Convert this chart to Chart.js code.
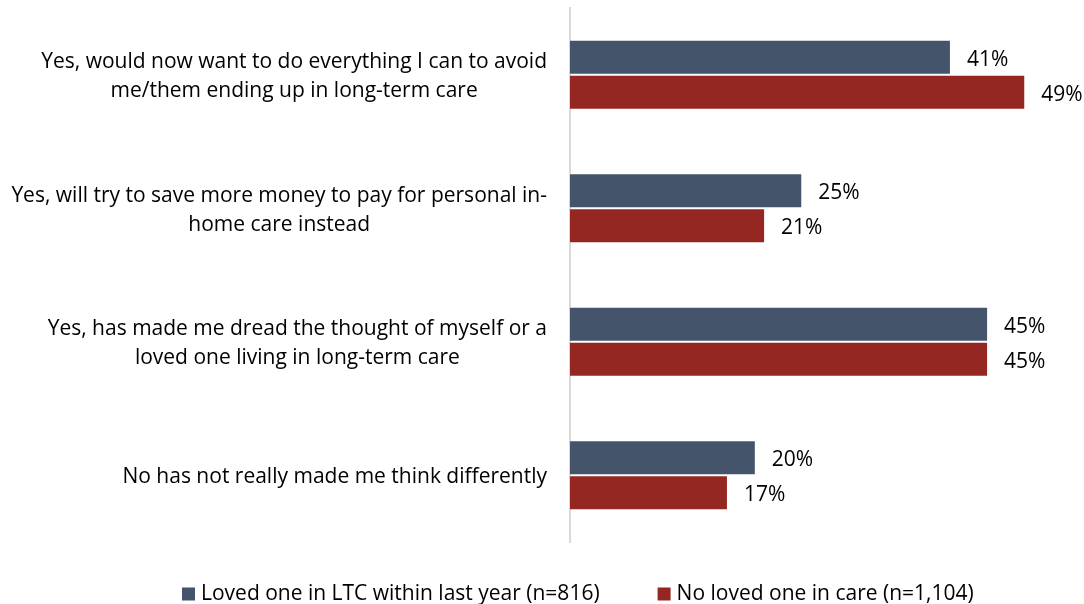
<!DOCTYPE html>
<html>
<head>
<meta charset="utf-8">
<script src="https://cdn.jsdelivr.net/npm/chart.js@4.4.0/dist/chart.umd.min.js"></script>
<style>
  html, body { margin: 0; padding: 0; background: #fff; }
  #wrap { width: 1084px; height: 604px; position: relative; }
</style>
</head>
<body>
<div id="wrap"><canvas id="c" width="1084" height="604"></canvas></div>
<script>
// Survey answers, one entry per category (lines as they wrap)
const categories = [
  ['Yes, would now want to do everything I can to avoid', 'me/them ending up in long-term care'],
  ['Yes, will try to save more money to pay for personal in-', 'home care instead'],
  ['Yes, has made me dread the thought of myself or a', 'loved one living in long-term care'],
  ['No has not really made me think differently']
];
const seriesNames = ['Loved one in LTC within last year (n=816)', 'No loved one in care (n=1,104)'];
const lovedOneInLTC = [41, 25, 45, 20];
const noLovedOneInCare = [49, 21, 45, 17];

const FONT = '"Open Sans", Lato, sans-serif';
const FONT_SIZE = 21;
const TEXT_COLOR = '#000';
const COLORS = ['#44546a', '#952722'];

// Category labels: block right-aligned against the axis, lines centred within the block
const categoryLabels = {
  id: 'categoryLabels',
  afterDraw(chart) {
    const { ctx } = chart;
    const y = chart.scales.y;
    const lineH = 29;
    const rightEdge = 547;
    ctx.save();
    ctx.font = `${FONT_SIZE}px ${FONT}`;
    ctx.fillStyle = TEXT_COLOR;
    ctx.textAlign = 'center';
    ctx.textBaseline = 'middle';
    chart.data.labels.forEach((lines, i) => {
      const cy = y.getPixelForValue(i) + 2;
      const blockW = Math.max(...lines.map(l => ctx.measureText(l).width));
      const cx = rightEdge - blockW / 2;
      lines.forEach((line, j) => {
        ctx.fillText(line, cx, cy + (j - (lines.length - 1) / 2) * lineH);
      });
    });
    ctx.restore();
  }
};

// Percent labels just past the end of each bar
const valueLabels = {
  id: 'valueLabels',
  afterDatasetsDraw(chart) {
    const { ctx } = chart;
    ctx.save();
    ctx.font = `${FONT_SIZE}px ${FONT}`;
    ctx.fillStyle = TEXT_COLOR;
    ctx.textAlign = 'left';
    ctx.textBaseline = 'middle';
    chart.data.datasets.forEach((ds, di) => {
      chart.getDatasetMeta(di).data.forEach((bar, i) => {
        ctx.fillText(ds.data[i] + '%', bar.x + 16, bar.y + 2.5);
      });
    });
    ctx.restore();
  }
};

// Legend row under the plot
const bottomLegend = {
  id: 'bottomLegend',
  afterDraw(chart) {
    const { ctx } = chart;
    const box = 13, boxGap = 6, itemGap = 58, cy = 594, startX = 182;
    ctx.save();
    ctx.font = `${FONT_SIZE}px ${FONT}`;
    ctx.textBaseline = 'middle';
    ctx.textAlign = 'left';
    let x = startX;
    chart.data.datasets.forEach(ds => {
      const w = ctx.measureText(ds.label).width;
      ctx.fillStyle = ds.backgroundColor;
      ctx.fillRect(x, cy - box / 2, box, box);
      ctx.fillStyle = TEXT_COLOR;
      ctx.fillText(ds.label, x + box + boxGap, cy);
      x += box + boxGap + w + itemGap;
    });
    ctx.restore();
  }
};

new Chart(document.getElementById('c'), {
  type: 'bar',
  data: {
    labels: categories,
    datasets: [
      { label: seriesNames[0], data: lovedOneInLTC, backgroundColor: COLORS[0],
        borderColor: 'rgba(255,255,255,0.25)', borderWidth: 1 },
      { label: seriesNames[1], data: noLovedOneInCare, backgroundColor: COLORS[1],
        borderColor: 'rgba(255,255,255,0.25)', borderWidth: 1 }
    ]
  },
  options: {
    indexAxis: 'y',
    responsive: false,
    animation: false,
    categoryPercentage: 0.525,
    barPercentage: 1,
    layout: { padding: { top: 8, right: 3, bottom: 62, left: 0 } },
    plugins: { legend: { display: false }, tooltip: { enabled: false } },
    scales: {
      x: { display: false, min: 0, max: 55 },
      y: {
        grid: { display: false, drawTicks: false },
        border: { display: true, color: '#d9d9d9', width: 2 },
        ticks: { display: false },
        afterFit(scale) { scale.width = 570; }
      }
    }
  },
  plugins: [categoryLabels, valueLabels, bottomLegend]
});
</script>
</body>
</html>
